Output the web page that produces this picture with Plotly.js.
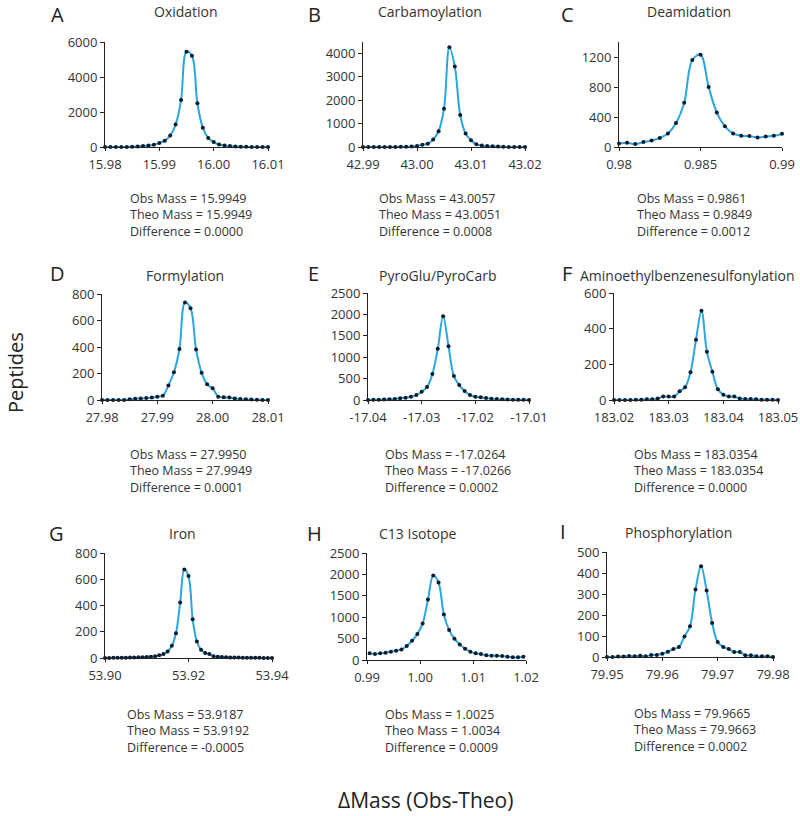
<!DOCTYPE html>
<html>
<head>
<meta charset="utf-8">
<script src="https://cdn.plot.ly/plotly-3.0.1.min.js"></script>
<style>html,body{margin:0;padding:0;background:#fff}#chart{width:800px;height:816px}</style>
</head>
<body>
<div id="chart"></div>
<script>
// panel names and letters
const letters = ['A','B','C','D','E','F','G','H','I'];
const names = ['Oxidation','Carbamoylation','Deamidation','Formylation','PyroGlu/PyroCarb',
  'Aminoethylbenzenesulfonylation','Iron','C13 Isotope','Phosphorylation'];
const obsMass  = ['15.9949','43.0057','0.9861','27.9950','-17.0264','183.0354','53.9187','1.0025','79.9665'];
const theoMass = ['15.9949','43.0051','0.9849','27.9949','-17.0266','183.0354','53.9192','1.0034','79.9663'];
const diffMass = ['0.0000','0.0008','0.0012','0.0001','0.0002','0.0000','-0.0005','0.0009','0.0002'];

// x tick labels
const ticksA = ['15.98','15.99','16.00','16.01'];
const ticksB = ['42.99','43.00','43.01','43.02'];
const ticksC = ['0.98','0.985','0.99'];
const ticksD = ['27.98','27.99','28.00','28.01'];
const ticksE = ['-17.04','-17.03','-17.02','-17.01'];
const ticksF = ['183.02','183.03','183.04','183.05'];
const ticksG = ['53.90','53.92','53.94'];
const ticksH = ['0.99','1.00','1.01','1.02'];
const ticksI = ['79.95','79.96','79.97','79.98'];

// data
const xA = [15.980,15.981,15.982,15.983,15.984,15.985,15.986,15.987,15.988,15.989,15.990,15.991,15.992,15.993,15.994,15.995,15.996,15.997,15.998,15.999,16.000,16.001,16.002,16.003,16.004,16.005,16.006,16.007,16.008,16.009,16.010];
const yA = [0,0,0,0,5,15,30,50,80,130,230,360,650,1280,2680,5450,5220,2500,1100,520,280,140,80,50,30,20,10,5,5,0,0];

const xB = [42.990,42.991,42.992,42.993,42.994,42.995,42.996,42.997,42.998,42.999,43.000,43.001,43.002,43.003,43.004,43.005,43.006,43.007,43.008,43.009,43.010,43.011,43.012,43.013,43.014,43.015,43.016,43.017,43.018,43.019,43.020];
const yB = [0,0,0,0,0,0,5,10,15,25,40,100,140,315,670,1630,4250,3430,1360,570,285,115,60,40,30,20,10,5,5,0,0];

const xC = [0.9800,0.9805,0.9810,0.9815,0.9820,0.9825,0.9830,0.9835,0.9840,0.9845,0.9850,0.9855,0.9860,0.9865,0.9870,0.9875,0.9880,0.9885,0.9890,0.9895,0.9900];
const yC = [45,55,40,65,85,120,180,320,590,1160,1230,800,460,275,180,150,145,125,140,150,175];

const xD = [27.980,27.981,27.982,27.983,27.984,27.985,27.986,27.987,27.988,27.989,27.990,27.991,27.992,27.993,27.994,27.995,27.996,27.997,27.998,27.999,28.000,28.001,28.002,28.003,28.004,28.005,28.006,28.007,28.008,28.009,28.010];
const yD = [0,0,0,0,0,5,10,12,15,18,25,33,110,209,385,735,692,382,206,118,88,25,20,18,12,8,5,3,2,0,0];

const xE = [-17.040,-17.039,-17.038,-17.037,-17.036,-17.035,-17.034,-17.033,-17.032,-17.031,-17.030,-17.029,-17.028,-17.027,-17.026,-17.025,-17.024,-17.023,-17.022,-17.021,-17.020,-17.019,-17.018,-17.017,-17.016,-17.015,-17.014,-17.013,-17.012,-17.011,-17.010];
const yE = [0,3,6,10,15,23,39,54,78,116,194,303,605,1196,1957,1258,559,349,210,116,78,62,47,31,23,15,10,8,5,3,0];

const xF = [183.020,183.021,183.022,183.023,183.024,183.025,183.026,183.027,183.028,183.029,183.030,183.031,183.032,183.033,183.034,183.035,183.036,183.037,183.038,183.039,183.040,183.041,183.042,183.043,183.044,183.045,183.046,183.047,183.048,183.049,183.050];
const yF = [0,0,0,0,2,2,4,4,8,19,19,19,49,71,156,338,501,270,158,60,30,19,19,8,6,6,4,2,2,1,0];

const xG = [53.900,53.901,53.902,53.903,53.904,53.905,53.906,53.907,53.908,53.909,53.910,53.911,53.912,53.913,53.914,53.915,53.916,53.917,53.918,53.919,53.920,53.921,53.922,53.923,53.924,53.925,53.926,53.927,53.928,53.929,53.930,53.931,53.932,53.933,53.934,53.935,53.936,53.937,53.938,53.939,53.940];
const yG = [0,0,1,1,2,2,3,4,5,6,8,10,13,20,30,50,93,189,422,674,624,295,126,63,38,30,13,10,8,5,4,3,3,2,2,1,1,1,0,0,0];

const xH = [0.9905,0.9915,0.9925,0.9935,0.9945,0.9955,0.9965,0.9975,0.9985,0.9995,1.0005,1.0015,1.0025,1.0035,1.0045,1.0055,1.0065,1.0075,1.0085,1.0095,1.0105,1.0115,1.0125,1.0135,1.0145,1.0155,1.0165,1.0175,1.0185,1.0195];
const yH = [155,140,155,170,194,217,248,326,450,605,854,1413,1972,1809,1063,699,497,365,264,194,155,140,109,101,101,93,78,62,62,78];

const xI = [79.950,79.951,79.952,79.953,79.954,79.955,79.956,79.957,79.958,79.959,79.960,79.961,79.962,79.963,79.964,79.965,79.966,79.967,79.968,79.969,79.970,79.971,79.972,79.973,79.974,79.975,79.976,79.977,79.978,79.979,79.980];
const yI = [0,0,2,2,5,3,6,3,10,10,16,25,38,48,98,146,322,432,317,162,71,48,38,24,24,8,8,3,3,3,0];

const xs = [xA,xB,xC,xD,xE,xF,xG,xH,xI];
const ys = [yA,yB,yC,yD,yE,yF,yG,yH,yI];
const ticks = [ticksA,ticksB,ticksC,ticksD,ticksE,ticksF,ticksG,ticksH,ticksI];

// layout in pixels: plot box [left, right, top, bottom], y max, y step,
// title centre, letter position, stats block top-left
const W = 800, H = 816;
const panels = [
  {box:[105,268,42,147], ymax:6000, dy:2000, tx:186, ty:12,  lx:58,  ly:14,  sx:128, sy:188},
  {box:[363,525,42,147], ymax:4470, dy:1000, tx:430, ty:12,  lx:314, ly:14,  sx:377, sy:188},
  {box:[619,782,42,147], ymax:1400, dy:400,  tx:689, ty:12,  lx:567, ly:14,  sx:635, sy:188},
  {box:[102,268,294,400], ymax:800, dy:200,  tx:185, ty:275, lx:58,  ly:274, sx:128, sy:444},
  {box:[368,529,293,400], ymax:2500, dy:500, tx:437, ty:275, lx:313, ly:274, sx:383, sy:444},
  {box:[614,778,293,400], ymax:600, dy:200,  tx:687, ty:275, lx:567, ly:274, sx:632, sy:444},
  {box:[105,272,553,658], ymax:800, dy:200,  tx:182, ty:533, lx:57,  ly:533, sx:125, sy:704},
  {box:[367,526,553,660], ymax:2500, dy:500, tx:417, ty:533, lx:314, ly:533, sx:383, sy:704},
  {box:[607,773,552,657], ymax:500, dy:100,  tx:678, ty:532, lx:563, ly:531, sx:632, sy:703}
];

const FONT = 'Open Sans, Noto Sans, sans-serif';
const px = v => v / W;
const py = v => 1 - v / H;

const data = [];
const layout = {
  width: W, height: H,
  margin: {l:0, r:0, t:0, b:0},
  paper_bgcolor: '#fff', plot_bgcolor: '#fff',
  showlegend: false,
  font: {family: FONT, color: '#333', size: 13},
  annotations: []
};

panels.forEach((p, i) => {
  const n = i === 0 ? '' : String(i + 1);
  data.push({
    x: xs[i], y: ys[i],
    xaxis: 'x' + n, yaxis: 'y' + n,
    type: 'scatter', mode: 'lines+markers',
    line: {color: '#2ba6de', width: 2, shape: 'spline', smoothing: 1},
    marker: {color: '#0d1b2a', size: 4},
    cliponaxis: false,
    hoverinfo: 'x+y'
  });
  const tv = ticks[i].map(parseFloat);
  layout['xaxis' + n] = {
    domain: [px(p.box[0]), px(p.box[1])],
    anchor: 'y' + n,
    range: [tv[0], tv[tv.length - 1]],
    tickvals: tv, ticktext: ticks[i],
    showline: true, linecolor: '#222', linewidth: 1,
    ticks: 'outside', ticklen: 3, tickcolor: '#222',
    ticklabelstandoff: 2,
    showgrid: false, zeroline: false,
    tickfont: {size: 13, color: '#333'}
  };
  layout['yaxis' + n] = {
    domain: [py(p.box[3]), py(p.box[2])],
    anchor: 'x' + n,
    range: [0, p.ymax], dtick: p.dy, tick0: 0,
    tickformat: 'd',
    showline: true, linecolor: '#222', linewidth: 1,
    ticks: 'outside', ticklen: 4, tickcolor: '#222',
    showgrid: false, zeroline: false,
    tickfont: {size: 13, color: '#333'}
  };
  layout.annotations.push({
    text: names[i], xref: 'paper', yref: 'paper',
    x: px(p.tx), y: py(p.ty), xanchor: 'center', yanchor: 'middle',
    showarrow: false, font: {size: 14, color: '#333'}
  });
  layout.annotations.push({
    text: letters[i], xref: 'paper', yref: 'paper',
    x: px(p.lx), y: py(p.ly), xanchor: 'center', yanchor: 'middle',
    showarrow: false, font: {size: 20, color: '#222'}
  });
  layout.annotations.push({
    text: 'Obs Mass = ' + obsMass[i] + '<br>Theo Mass = ' + theoMass[i] + '<br>Difference = ' + diffMass[i],
    xref: 'paper', yref: 'paper',
    x: px(p.sx), y: py(p.sy), xanchor: 'left', yanchor: 'top', align: 'left',
    showarrow: false, font: {size: 12.5, color: '#333'}
  });
});

// shared axis titles
layout.annotations.push({
  text: 'Peptides', xref: 'paper', yref: 'paper',
  x: px(16), y: py(373), xanchor: 'center', yanchor: 'middle', textangle: -90,
  showarrow: false, font: {size: 20, color: '#222'}
});
layout.annotations.push({
  text: 'ΔMass (Obs-Theo)', xref: 'paper', yref: 'paper',
  x: px(425), y: py(800), xanchor: 'center', yanchor: 'middle',
  showarrow: false, font: {size: 21, color: '#222'}
});

Plotly.newPlot('chart', data, layout, {displayModeBar: false, staticPlot: true});
</script>
</body>
</html>
